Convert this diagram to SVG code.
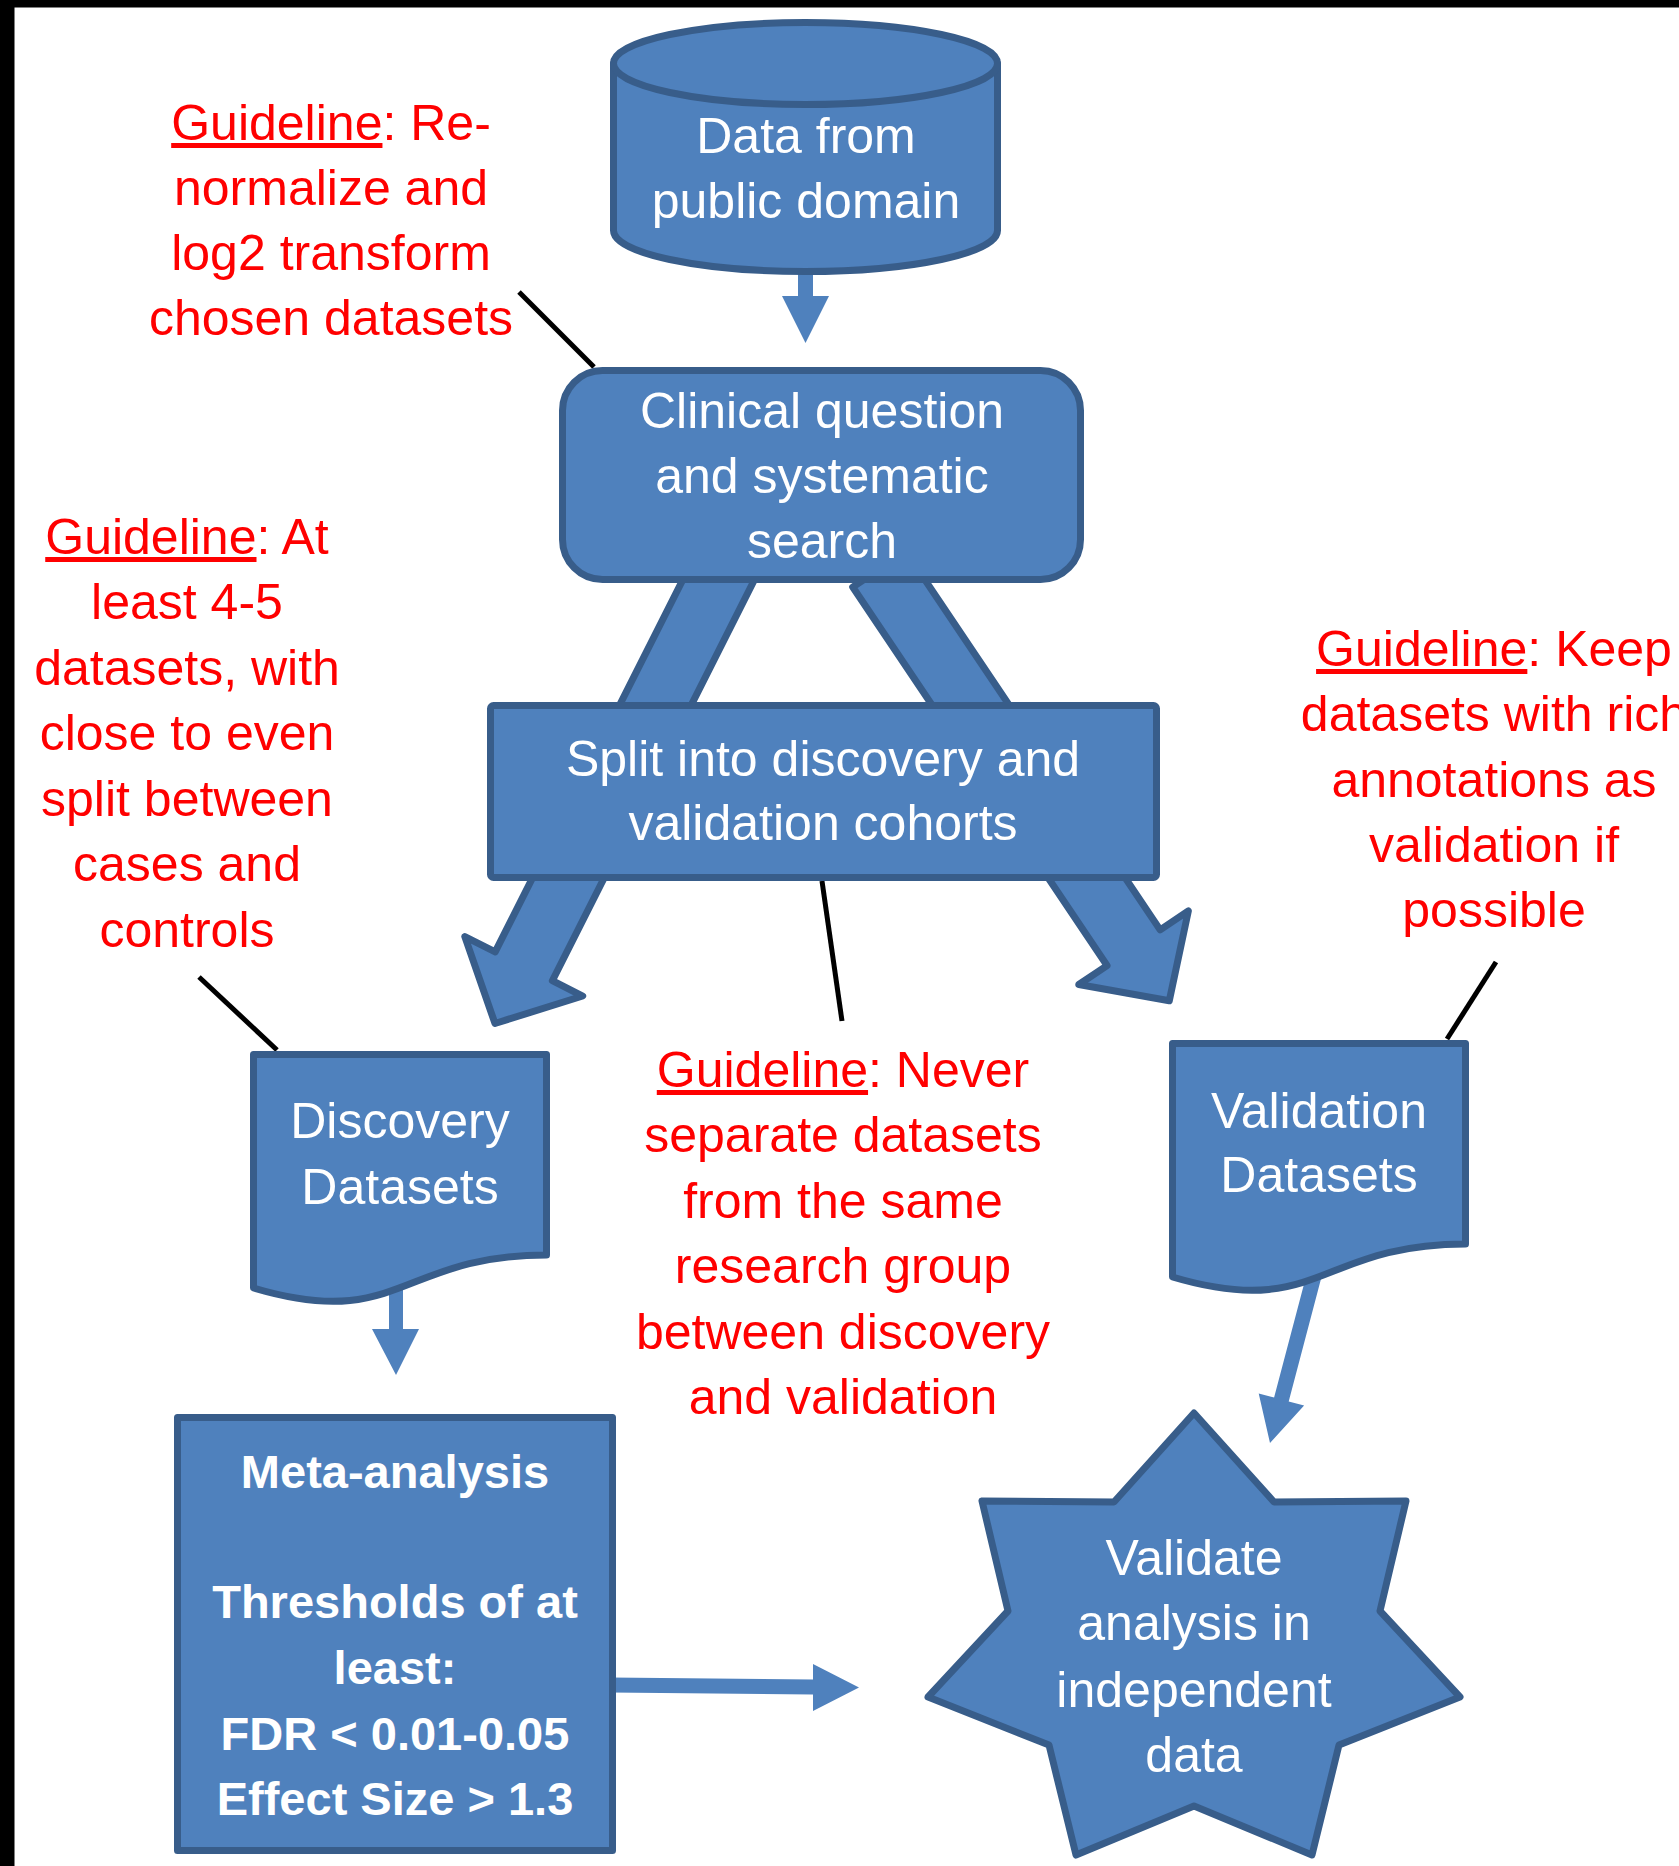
<svg xmlns="http://www.w3.org/2000/svg" xmlns:xlink="http://www.w3.org/1999/xlink" width="1679" height="1866" viewBox="0 0 1679 1866">
  <style>
    .shape { fill: #4F81BD; stroke: #385D8A; stroke-width: 7; stroke-linejoin: round; }
    .flow { fill: #4F81BD; stroke: none; }
    .lead { fill: none; stroke: #000000; stroke-width: 5; }
    .lbl { font-family: "Liberation Sans", Arial, sans-serif; font-size: 50px; fill: #FFFFFF; text-anchor: middle; }
    .lbl-b { font-weight: bold; font-size: 47px; }
    .note { font-family: "Liberation Sans", Arial, sans-serif; font-size: 50px; fill: #FF0000; text-anchor: middle; }
    .u { text-decoration: underline; }
  </style>
  <defs>
    <!-- wide block arrow, axis along local +y -->
    <path id="bigArrow" d="M-32,-160 L32,-160 L32,296 L66,296 L0,360 L-66,296 L-32,296 Z"/>
  </defs>

  <!-- page background and frame edges -->
  <rect x="0" y="0" width="1679" height="1866" fill="#FFFFFF"/>
  <rect x="0" y="0" width="1679" height="7.5" fill="#000000"/>
  <rect x="0" y="0" width="14.5" height="1866" fill="#000000"/>

  <g id="connectors">
    <!-- split arrows from the search box to the two cohorts -->
    <use xlink:href="#bigArrow" class="shape" transform="translate(657,702) rotate(26.75)"/>
    <use xlink:href="#bigArrow" class="shape" transform="translate(968.5,702) rotate(-33.9)"/>
    <!-- data source -> clinical question -->
    <polygon class="flow" points="798,266 813,266 813,296 829,296 805.5,343 782,296 798,296"/>
    <!-- discovery datasets -> meta-analysis -->
    <polygon class="flow" points="389,1280 403,1280 403,1329 419,1329 396,1375 372,1329 389,1329"/>
    <!-- meta-analysis -> validation star -->
    <polygon class="flow" points="610,1677.5 813,1679.5 813,1664 859,1687.5 813,1711 813,1694.5 610,1692.5"/>
    <!-- validation datasets -> validation star -->
    <polygon class="flow" points="1312.2,1253.1 1326.8,1256.9 1288.7,1401.4 1304.1,1405.5 1270,1443 1258.7,1393.5 1274.1,1397.6"/>
    <!-- guideline leader lines -->
    <line class="lead" x1="519" y1="292" x2="594" y2="367"/>
    <line class="lead" x1="199" y1="977" x2="277" y2="1050"/>
    <line class="lead" x1="822" y1="881" x2="842" y2="1021"/>
    <line class="lead" x1="1496" y1="962" x2="1447" y2="1039"/>
  </g>

  <g id="data-source">
    <path class="shape" d="M613.5,63.5 L613.5,230.5 A192,41 0 0 0 997.5,230.5 L997.5,63.5 Z"/>
    <ellipse class="shape" cx="805.5" cy="63.5" rx="192" ry="41"/>
    <text class="lbl" x="806" y="153">Data from</text>
    <text class="lbl" x="806" y="218">public domain</text>
  </g>

  <g id="clinical-question">
    <rect class="shape" x="562.5" y="370.5" width="518" height="209" rx="40" ry="40"/>
    <text class="lbl" x="822" y="428">Clinical question</text>
    <text class="lbl" x="822" y="493">and systematic</text>
    <text class="lbl" x="822" y="558">search</text>
  </g>

  <g id="split-cohorts">
    <rect class="shape" x="490.5" y="705.5" width="666" height="172" rx="3" ry="3"/>
    <text class="lbl" x="823" y="776">Split into discovery and</text>
    <text class="lbl" x="823" y="840">validation cohorts</text>
  </g>

  <g id="discovery-datasets">
    <path class="shape" d="M253.5,1054.5 H546.5 V1255 C400,1255 400,1331.4 253.5,1288 Z"/>
    <text class="lbl" x="400" y="1138">Discovery</text>
    <text class="lbl" x="400" y="1204">Datasets</text>
  </g>

  <g id="validation-datasets">
    <path class="shape" d="M1172.5,1043.5 H1465.5 V1244 C1319,1244 1319,1320.4 1172.5,1277 Z"/>
    <text class="lbl" x="1319" y="1128">Validation</text>
    <text class="lbl" x="1319" y="1192">Datasets</text>
  </g>

  <g id="meta-analysis">
    <rect class="shape" x="177.5" y="1417.5" width="435" height="433"/>
    <text class="lbl lbl-b" x="395" y="1488">Meta-analysis</text>
    <text class="lbl lbl-b" x="395" y="1618">Thresholds of at</text>
    <text class="lbl lbl-b" x="395" y="1684">least:</text>
    <text class="lbl lbl-b" x="395" y="1750">FDR &lt; 0.01-0.05</text>
    <text class="lbl lbl-b" x="395" y="1815">Effect Size &gt; 1.3</text>
  </g>

  <g id="validate-star">
    <polygon class="shape" points="1194,1413 1274,1502 1406,1501 1380,1611 1460,1697 1339,1745 1312,1855 1194,1806 1076,1855 1049,1745 928,1697 1008,1611 982,1501 1114,1502"/>
    <text class="lbl" x="1194" y="1575">Validate</text>
    <text class="lbl" x="1194" y="1640">analysis in</text>
    <text class="lbl" x="1194" y="1707">independent</text>
    <text class="lbl" x="1194" y="1772">data</text>
  </g>

  <g id="note-normalize">
    <text class="note" x="331" y="140"><tspan class="u">Guideline</tspan>: Re-</text>
    <text class="note" x="331" y="205">normalize and</text>
    <text class="note" x="331" y="270">log2 transform</text>
    <text class="note" x="331" y="335">chosen datasets</text>
  </g>

  <g id="note-dataset-count">
    <text class="note" x="187" y="554"><tspan class="u">Guideline</tspan>: At</text>
    <text class="note" x="187" y="619">least 4-5</text>
    <text class="note" x="187" y="685">datasets, with</text>
    <text class="note" x="187" y="750">close to even</text>
    <text class="note" x="187" y="816">split between</text>
    <text class="note" x="187" y="881">cases and</text>
    <text class="note" x="187" y="947">controls</text>
  </g>

  <g id="note-research-group">
    <text class="note" x="843" y="1087"><tspan class="u">Guideline</tspan>: Never</text>
    <text class="note" x="843" y="1152">separate datasets</text>
    <text class="note" x="843" y="1218">from the same</text>
    <text class="note" x="843" y="1283">research group</text>
    <text class="note" x="843" y="1349">between discovery</text>
    <text class="note" x="843" y="1414">and validation</text>
  </g>

  <g id="note-annotations">
    <text class="note" x="1494" y="666"><tspan class="u">Guideline</tspan>: Keep</text>
    <text class="note" x="1494" y="731">datasets with rich</text>
    <text class="note" x="1494" y="797">annotations as</text>
    <text class="note" x="1494" y="862">validation if</text>
    <text class="note" x="1494" y="927">possible</text>
  </g>
</svg>
